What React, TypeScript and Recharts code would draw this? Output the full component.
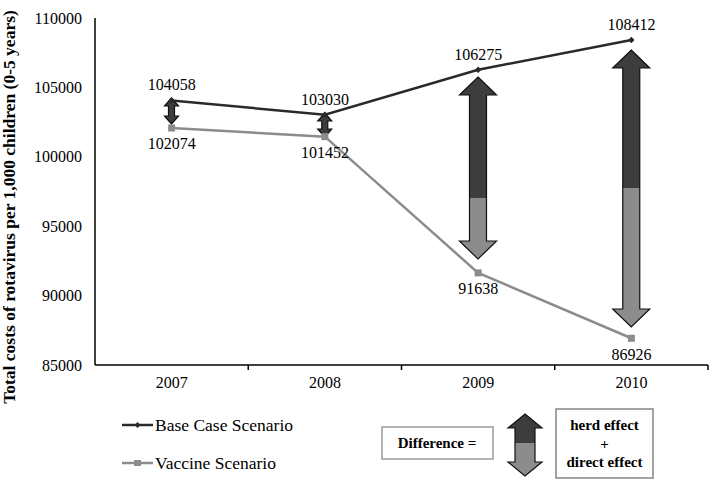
import React from 'react';
import { ComposedChart, Line, Bar, XAxis, YAxis, LabelList } from 'recharts';

const years = ['2007', '2008', '2009', '2010'];
const baseCase = [104058, 103030, 106275, 108412];
const vaccine = [102074, 101452, 91638, 86926];
// difference arrows (top tip, colour split, bottom tip)
const arrowTop = [104236, 103156, 105749, 107695];
const arrowSplit = [102363, 101427, 97032, 97752];
const arrowBottom = [102363, 101427, 92637, 87738];
const yTicks = [85000, 90000, 95000, 100000, 105000, 110000];

const data = years.map((year, i) => ({
  year,
  base: baseCase[i],
  vaccine: vaccine[i],
  arrowTop: arrowTop[i],
  arrowSplit: arrowSplit[i],
  arrowBottom: arrowBottom[i],
}));

const FONT = '"Liberation Serif", "Times New Roman", serif';
const DARK = '#2a2a2a';
const ARROW_DARK = '#3d3d3d';
const GRAY = '#8c8c8c';

function arrowPath(cx: number, top: number, h: number, headW: number, shaftW: number, headH: number) {
  const b = top + h;
  return [
    `M${cx},${top}`,
    `L${cx + headW / 2},${top + headH}`,
    `L${cx + shaftW / 2},${top + headH}`,
    `L${cx + shaftW / 2},${b - headH}`,
    `L${cx + headW / 2},${b - headH}`,
    `L${cx},${b}`,
    `L${cx - headW / 2},${b - headH}`,
    `L${cx - shaftW / 2},${b - headH}`,
    `L${cx - shaftW / 2},${top + headH}`,
    `L${cx - headW / 2},${top + headH}`,
    'Z',
  ].join(' ');
}

const ArrowShape = (props: any) => {
  const { x, y, width, height, payload, index } = props;
  if (height == null || isNaN(height)) return null;
  const big = height > 60;
  const headW = big ? 37 : 14;
  const shaftW = big ? 17 : 6;
  const headH = big ? 18 : 8;
  const cx = x + width / 2;
  const frac = (payload.arrowTop - payload.arrowSplit) / (payload.arrowTop - payload.arrowBottom);
  const splitY = y + frac * height;
  const d = arrowPath(cx, y, height, headW, shaftW, headH);
  const id = `arrclip-${index}`;
  return (
    <g>
      <defs>
        <clipPath id={id}>
          <path d={d} />
        </clipPath>
      </defs>
      <g clipPath={`url(#${id})`}>
        <rect x={cx - headW} y={y} width={headW * 2} height={splitY - y} fill={ARROW_DARK} />
        <rect x={cx - headW} y={splitY} width={headW * 2} height={y + height - splitY} fill={GRAY} />
      </g>
      <path d={d} fill="none" stroke="#111" strokeWidth={1.2} strokeLinejoin="miter" />
    </g>
  );
};

const DiamondDot = (props: any) => {
  const { cx, cy } = props;
  if (cx == null || cy == null) return null;
  const r = 3.2;
  return <path d={`M${cx},${cy - r} L${cx + r},${cy} L${cx},${cy + r} L${cx - r},${cy} Z`} fill={DARK} />;
};

const SquareDot = (props: any) => {
  const { cx, cy } = props;
  if (cx == null || cy == null) return null;
  return <rect x={cx - 3.5} y={cy - 3.5} width={7} height={7} fill={GRAY} />;
};

const XTick = (props: any) => {
  const { x, y, payload } = props;
  const off = payload && typeof payload.offset === 'number' ? payload.offset : 0;
  return (
    <g>
      <text x={x} y={y + 23} textAnchor="middle" fontSize={16} fontFamily={FONT} fill="#000">
        {payload.value}
      </text>
      {off ? <line x1={x + off} x2={x + off} y1={y} y2={y + 5} stroke="#000" strokeWidth={1.5} /> : null}
    </g>
  );
};

const YLabel = () => (
  <text
    x={15}
    y={207}
    transform="rotate(-90, 15, 207)"
    textAnchor="middle"
    fontSize={17.5}
    fontWeight="bold"
    fontFamily={FONT}
    fill="#000"
  >
    Total costs of rotavirus per 1,000 children (0-5 years)
  </text>
);

const LegendOverlay = () => (
  <svg width={710} height={479} style={{ position: 'absolute', left: 0, top: 0, pointerEvents: 'none' }}>
    <line x1={122} x2={153} y1={425} y2={425} stroke={DARK} strokeWidth={2.5} />
    <path d="M137.5,422 L140.5,425 L137.5,428 L134.5,425 Z" fill={DARK} />
    <text x={155} y={431} fontSize={17.5} fontFamily={FONT} fill="#000">Base Case Scenario</text>
    <line x1={122} x2={153} y1={463} y2={463} stroke={GRAY} strokeWidth={2.5} />
    <rect x={134} y={460} width={7} height={6} fill={GRAY} />
    <text x={155} y={469} fontSize={17.5} fontFamily={FONT} fill="#000">Vaccine Scenario</text>

    <rect x={382} y={427} width={111} height={32} fill="#fff" stroke="#9a9a9a" strokeWidth={1.5} />
    <text x={437} y={448} textAnchor="middle" fontSize={15} fontWeight="bold" fontFamily={FONT} fill="#000">
      Difference =
    </text>

    <defs>
      <clipPath id="legArrow">
        <path d={arrowPath(525, 414, 62, 34, 20, 14)} />
      </clipPath>
    </defs>
    <g clipPath="url(#legArrow)">
      <rect x={505} y={414} width={40} height={29} fill={ARROW_DARK} />
      <rect x={505} y={443} width={40} height={33} fill={GRAY} />
    </g>
    <path d={arrowPath(525, 414, 62, 34, 20, 14)} fill="none" stroke="#111" strokeWidth={1.2} />

    <rect x={556} y={409} width={97} height={69} fill="#fff" stroke="#9a9a9a" strokeWidth={1.8} />
    <text x={604.5} y={430} textAnchor="middle" fontSize={15} fontWeight="bold" fontFamily={FONT} fill="#000">
      herd effect
    </text>
    <text x={604.5} y={449} textAnchor="middle" fontSize={15} fontWeight="bold" fontFamily={FONT} fill="#000">
      +
    </text>
    <text x={604.5} y={467} textAnchor="middle" fontSize={15} fontWeight="bold" fontFamily={FONT} fill="#000">
      direct effect
    </text>
  </svg>
);

export default function App() {
  return (
    <div style={{ position: 'absolute', left: 0, top: 0, width: 710, height: 479, background: '#fff' }}>
      <ComposedChart
        width={710}
        height={479}
        data={data}
        margin={{ top: 18, right: 2, bottom: 0, left: 0 }}
      >
        <XAxis
          dataKey="year"
          height={114}
          tickLine={false}
          tickSize={0}
          tickMargin={0}
          axisLine={{ stroke: '#000', strokeWidth: 1.5 }}
          tick={<XTick />}
          interval={0}
        />
        <YAxis
          width={95}
          domain={[85000, 110000]}
          ticks={yTicks}
          allowDataOverflow
          tickLine={false}
          tickSize={0}
          tickMargin={13}
          axisLine={{ stroke: '#000', strokeWidth: 1.5 }}
          tick={{ fontSize: 16, fontFamily: FONT, fill: '#000' }}
          label={{ content: () => <YLabel /> }}
        />
        <Bar
          dataKey={(d: any) => [d.arrowBottom, d.arrowTop]}
          barSize={37}
          shape={<ArrowShape />}
          isAnimationActive={false}
        />
        <Line
          type="linear"
          dataKey="base"
          stroke={DARK}
          strokeWidth={2.5}
          dot={<DiamondDot />}
          activeDot={false}
          isAnimationActive={false}
        >
          <LabelList dataKey="base" position="top" offset={10} fontSize={16} fontFamily={FONT} fill="#000" />
        </Line>
        <Line
          type="linear"
          dataKey="vaccine"
          stroke={GRAY}
          strokeWidth={2.5}
          dot={<SquareDot />}
          activeDot={false}
          isAnimationActive={false}
        >
          <LabelList dataKey="vaccine" position="bottom" offset={10} fontSize={16} fontFamily={FONT} fill="#000" />
        </Line>
      </ComposedChart>
      <LegendOverlay />
    </div>
  );
}
